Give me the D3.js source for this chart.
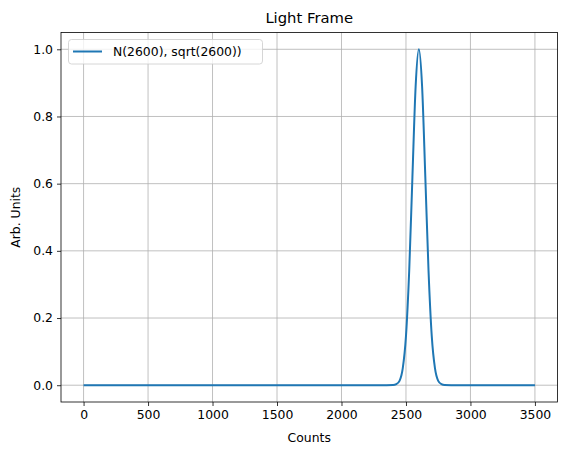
<!DOCTYPE html>
<html>
<head>
<meta charset="utf-8">
<script src="https://cdn.jsdelivr.net/npm/d3@7"></script>
<style>
  body { margin: 0; background: #fff; }
  text { font-family: "DejaVu Sans", sans-serif; fill: #000; }
</style>
</head>
<body>
<div id="chart"></div>
<script>
// values
const counts = [0, 2300, 2400, 2425, 2450, 2475, 2500, 2525, 2550, 2575, 2600,
                2625, 2650, 2675, 2700, 2725, 2750, 2775, 2800, 2900, 3500];
const arbUnits = [0, 0, 0.0005, 0.003, 0.013, 0.05, 0.146, 0.34, 0.62, 0.89, 1.0,
                  0.89, 0.62, 0.34, 0.146, 0.05, 0.013, 0.003, 0.0005, 0, 0];
const xTicks = [0, 500, 1000, 1500, 2000, 2500, 3000, 3500];
const yTicks = [0.0, 0.2, 0.4, 0.6, 0.8, 1.0];
const seriesName = 'N(2600), sqrt(2600))';

const width = 567;
const height = 455;
const margin = {top: 32.5, right: 9.5, bottom: 53, left: 61};

window.onload = function() {
     drawChart();
};

function drawChart(){
     let svg = d3.select('#chart')
                    .append('svg')
                         .attr('width', width)
                         .attr('height', height);

     const x = d3.scaleLinear()
                    .domain([-175, 3675])
                    .range([margin.left, width - margin.right]);

     const y = d3.scaleLinear()
                    .domain([-0.05, 1.05])
                    .range([height - margin.bottom, margin.top]);

     // grid
     svg.append('g')
          .selectAll('line.vgrid')
          .data(xTicks)
          .enter()
               .append('line')
                    .attr('x1', (d) => x(d)).attr('x2', (d) => x(d))
                    .attr('y1', margin.top).attr('y2', height - margin.bottom)
                    .attr('stroke', '#b0b0b0').attr('stroke-width', 0.8);
     svg.append('g')
          .selectAll('line.hgrid')
          .data(yTicks)
          .enter()
               .append('line')
                    .attr('y1', (d) => y(d)).attr('y2', (d) => y(d))
                    .attr('x1', margin.left).attr('x2', width - margin.right)
                    .attr('stroke', '#b0b0b0').attr('stroke-width', 0.8);

     // x-axis
     let xAxis = svg.append('g')
          .attr('transform', `translate(0, ${height - margin.bottom})`)
          .call(d3.axisBottom(x).tickValues(xTicks).tickSize(4).tickPadding(4).tickFormat(d3.format('d')));

     // y-axis
     let yAxis = svg.append('g')
          .attr('transform', `translate(${margin.left}, 0)`)
          .call(d3.axisLeft(y).tickValues(yTicks).tickSize(4).tickPadding(4).tickFormat(d3.format('.1f')));

     [xAxis, yAxis].forEach(a => {
          a.select('.domain').remove();
          a.selectAll('text').style('font-size', '12.4px').style('font-family', '"DejaVu Sans", sans-serif');
          a.selectAll('line').attr('stroke-width', 0.8);
     });

     // frame
     svg.append('rect')
          .attr('x', margin.left)
          .attr('y', margin.top)
          .attr('width', width - margin.left - margin.right)
          .attr('height', height - margin.top - margin.bottom)
          .attr('fill', 'none')
          .attr('stroke', '#000')
          .attr('stroke-width', 0.8);

     // curve
     let points = counts.map((c, i) => [c, arbUnits[i]]);
     let line = d3.line()
                    .x((d) => x(d[0]))
                    .y((d) => y(d[1]))
                    .curve(d3.curveMonotoneX);

     svg.append('path')
          .datum(points)
          .attr('d', line)
          .attr('fill', 'none')
          .attr('stroke', '#1f77b4')
          .attr('stroke-width', 2);

     // title
     svg.append('text')
          .attr('x', (margin.left + width - margin.right) / 2)
          .attr('y', 23)
          .attr('text-anchor', 'middle')
          .style('font-size', '14.8px')
          .text('Light Frame');

     // axis labels
     svg.append('text')
          .attr('x', (margin.left + width - margin.right) / 2)
          .attr('y', 442)
          .attr('text-anchor', 'middle')
          .style('font-size', '12.4px')
          .text('Counts');

     svg.append('text')
          .attr('transform', `translate(20, ${(margin.top + height - margin.bottom) / 2}) rotate(-90)`)
          .attr('text-anchor', 'middle')
          .style('font-size', '12.4px')
          .text('Arb. Units');

     // legend
     let legend = svg.append('g');
     legend.append('rect')
          .attr('x', 68.5).attr('y', 39.5)
          .attr('width', 194).attr('height', 24.5)
          .attr('rx', 3)
          .attr('fill', '#fff').attr('fill-opacity', 0.8)
          .attr('stroke', '#cccccc').attr('stroke-width', 0.8);
     legend.append('line')
          .attr('x1', 73).attr('x2', 102)
          .attr('y1', 51.5).attr('y2', 51.5)
          .attr('stroke', '#1f77b4').attr('stroke-width', 2);
     legend.append('text')
          .attr('x', 113).attr('y', 56)
          .style('font-size', '12.4px')
          .text(seriesName);
}
</script>
</body>
</html>
